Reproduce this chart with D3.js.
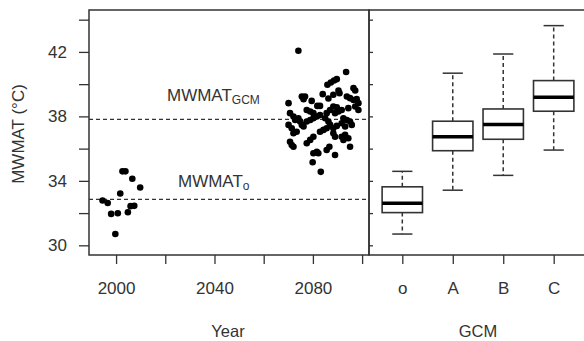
<!DOCTYPE html>
<html><head><meta charset="utf-8">
<script src="https://cdn.jsdelivr.net/npm/d3@7"></script>
<style>
html,body{margin:0;padding:0;background:#fff;}
svg{display:block;font-family:"Liberation Sans",Arial,sans-serif;}
</style></head>
<body><svg id="c" width="584" height="341"></svg>
<script>
// ---- data ----
const obsYears = [1994.5,1996.6,1998.0,2000.7,1999.7,2001.7,2002.6,2003.8,2006.6,2009.8,2004.8,2005.9,2007.4];
const obsValues = [32.78,32.63,31.95,31.99,30.70,33.22,34.59,34.59,34.13,33.59,32.05,32.43,32.45];
const futYears = [2074.1,2093.5,2085.9,2087.3,2088.6,2089.7,2096.5,2097.2,2070.1,2075.5,2076.8,2076.2,2079.5,2081.8,2082.9,2084.0,2086.3,2088.3,2090.4,2090.8,2093.8,2095.1,2096.5,2097.8,2098.5,2097.2,2098.5,2094.4,2088.3,2089.7,2077.5,2078.9,2080.2,2085.6,2087.0,2070.7,2072.1,2072.8,2074.1,2074.8,2075.5,2076.2,2070.1,2071.4,2072.1,2073.4,2077.5,2078.9,2080.2,2081.6,2082.9,2085.0,2086.3,2087.0,2089.0,2090.4,2091.7,2092.4,2093.8,2095.1,2095.8,2091.7,2093.1,2070.7,2071.4,2072.1,2077.5,2078.9,2080.2,2082.9,2084.3,2085.6,2088.3,2089.0,2091.7,2092.4,2093.1,2094.4,2095.1,2080.2,2081.6,2082.2,2085.6,2086.7,2089.0,2079.9,2083.2,2088.3,2089.7];
const futValues = [42.07,40.75,39.96,40.10,40.23,40.31,39.75,39.61,38.82,39.23,39.23,39.07,38.96,38.65,38.65,39.38,39.11,39.34,39.61,39.44,39.23,39.13,39.02,39.07,38.82,38.61,38.40,38.51,38.61,38.57,38.40,38.30,38.20,38.20,38.40,38.20,37.99,37.78,37.88,37.68,37.47,37.37,37.47,37.26,36.95,37.05,37.68,37.78,37.88,37.99,38.09,37.88,37.68,37.47,38.20,38.30,38.40,37.88,37.78,37.68,37.47,37.57,37.37,36.43,36.22,36.12,36.33,36.54,36.74,37.05,37.16,37.26,36.95,36.74,36.74,36.54,36.85,36.64,36.12,35.71,35.81,35.71,35.91,36.12,35.60,35.15,34.56,37.26,37.41];
const refLines = [32.85, 37.82];
const gcmCategories = ["o","A","B","C"];
const boxLowWhisker = [30.70,33.42,34.34,35.91];
const boxQ1 = [32.03,35.87,36.58,38.32];
const boxMedian = [32.61,36.74,37.49,39.19];
const boxQ3 = [33.63,37.70,38.46,40.22];
const boxHighWhisker = [34.59,40.68,41.87,43.63];
const yTicks = [30,32,34,36,38,40,42,44];
const yearTicks = [2000,2020,2040,2060,2080,2100];

// ---- layout ----
const svg = d3.select("#c");
const ink = "#333";
const plotTop = 10, plotBottom = 255, L0 = 89, L1 = 369, R1 = 587;
const y = d3.scaleLinear().domain([29.4, 44.6]).range([plotBottom, plotTop]);
const xL = d3.scaleLinear().domain([1989, 2102.8]).range([L0, L1]);
const xR = d3.scaleLinear().domain([0.34, 4.66]).range([L1, R1]);
const font = 17;

function styleAxis(g){
  g.select(".domain").remove();
  g.selectAll(".tick line").attr("stroke", ink).attr("stroke-width", 1.3);
  g.selectAll(".tick text").attr("fill", ink).attr("font-size", font).attr("font-family","Liberation Sans, Arial, sans-serif");
}

// left y axis
svg.append("g").attr("transform",`translate(${L0},0)`)
  .call(d3.axisLeft(y).tickValues(yTicks).tickSize(10).tickPadding(12)
        .tickFormat(d => d % 4 === 2 ? d : ""))
  .call(styleAxis);
// inner ticks on divider (right panel's y axis)
svg.append("g").attr("transform",`translate(${L1},0)`)
  .call(d3.axisRight(y).tickValues(yTicks).tickSize(4).tickFormat(""))
  .call(styleAxis);
// bottom axes
svg.append("g").attr("transform",`translate(0,${plotBottom})`)
  .call(d3.axisBottom(xL).tickValues(yearTicks).tickSize(9).tickPadding(18)
        .tickFormat(d => d % 40 === 0 ? d : ""))
  .call(styleAxis);
svg.append("g").attr("transform",`translate(0,${plotBottom})`)
  .call(d3.axisBottom(xR).tickValues([1,2,3,4]).tickSize(9).tickPadding(18)
        .tickFormat(d => gcmCategories[d-1]))
  .call(styleAxis);

// dashed reference lines
svg.selectAll("line.ref").data(refLines).enter().append("line")
  .attr("x1", L0).attr("x2", L1).attr("y1", d=>y(d)).attr("y2", d=>y(d))
  .attr("stroke", ink).attr("stroke-width", 1.3).attr("stroke-dasharray","4,3");

// labels
const lab1 = svg.append("text").attr("x",167).attr("y",y(38.95)).attr("fill",ink).attr("font-size",font);
lab1.append("tspan").text("MWMAT");
lab1.append("tspan").attr("font-size",12).attr("dy",3).text("GCM");
const lab2 = svg.append("text").attr("x",178).attr("y",y(33.62)).attr("fill",ink).attr("font-size",font);
lab2.append("tspan").text("MWMAT");
lab2.append("tspan").attr("font-size",12).attr("dy",3).text("o");

// scatter points
const pts = obsYears.map((d,i)=>[d,obsValues[i]]).concat(futYears.map((d,i)=>[d,futValues[i]]));
svg.selectAll("circle.pt").data(pts).enter().append("circle")
  .attr("cx", d=>xL(d[0])).attr("cy", d=>y(d[1])).attr("r", 3.3).attr("fill","#000");

// boxplots
const bw = 0.4, cw = 0.2;
gcmCategories.forEach((c,i)=>{
  const cx = i+1;
  const g = svg.append("g");
  g.append("line").attr("x1",xR(cx)).attr("x2",xR(cx)).attr("y1",y(boxQ3[i])).attr("y2",y(boxHighWhisker[i]))
    .attr("stroke",ink).attr("stroke-width",1.5).attr("stroke-dasharray","4,3");
  g.append("line").attr("x1",xR(cx)).attr("x2",xR(cx)).attr("y1",y(boxQ1[i])).attr("y2",y(boxLowWhisker[i]))
    .attr("stroke",ink).attr("stroke-width",1.5).attr("stroke-dasharray","4,3");
  [boxHighWhisker[i], boxLowWhisker[i]].forEach(v=>{
    g.append("line").attr("x1",xR(cx-cw)).attr("x2",xR(cx+cw)).attr("y1",y(v)).attr("y2",y(v))
      .attr("stroke",ink).attr("stroke-width",1.5);
  });
  g.append("rect").attr("x",xR(cx-bw)).attr("width",xR(cx+bw)-xR(cx-bw))
    .attr("y",y(boxQ3[i])).attr("height",y(boxQ1[i])-y(boxQ3[i]))
    .attr("fill","#fff").attr("stroke",ink).attr("stroke-width",1.6);
  g.append("line").attr("x1",xR(cx-bw)).attr("x2",xR(cx+bw)).attr("y1",y(boxMedian[i])).attr("y2",y(boxMedian[i]))
    .attr("stroke","#000").attr("stroke-width",3.5);
});

// panel frames
svg.append("rect").attr("x",L0).attr("y",plotTop).attr("width",L1-L0).attr("height",plotBottom-plotTop)
  .attr("fill","none").attr("stroke",ink).attr("stroke-width",1.5);
svg.append("rect").attr("x",L1).attr("y",plotTop).attr("width",R1-L1).attr("height",plotBottom-plotTop)
  .attr("fill","none").attr("stroke",ink).attr("stroke-width",1.5);

// axis titles
svg.append("text").attr("x",228).attr("y",331).attr("text-anchor","middle").attr("dominant-baseline","central")
  .attr("fill",ink).attr("font-size",16.5).text("Year");
svg.append("text").attr("x",478).attr("y",331).attr("text-anchor","middle").attr("dominant-baseline","central")
  .attr("fill",ink).attr("font-size",16.5).text("GCM");
svg.append("text").attr("transform","translate(18,134) rotate(-90)").attr("text-anchor","middle")
  .attr("dominant-baseline","central").attr("fill",ink).attr("font-size",17).text("MWMAT (°C)");
</script></body></html>
